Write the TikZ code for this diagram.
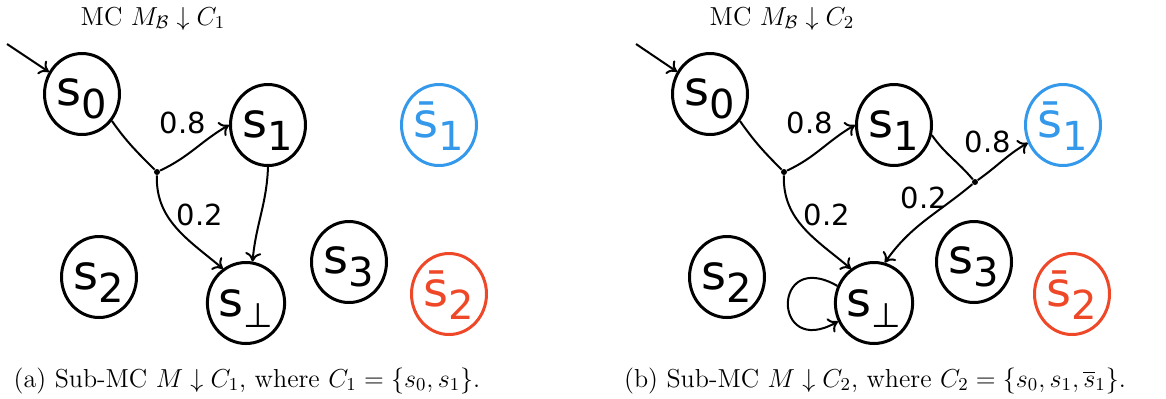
\RequirePackage{fix-cm}
\documentclass[tikz,border=0pt]{standalone}
\usepackage{amsmath}
\usepackage{fontspec}
\usetikzlibrary{arrows.meta, shapes.geometric}

\newfontfamily\statefont{DejaVu Sans}
\definecolor{stateblue}{RGB}{52,152,235}
\definecolor{statered}{RGB}{238,72,40}

% state label: letter with a big lowered index
\newcommand{\stname}[2]{\rule{0pt}{18.5pt}#1\raisebox{-6.5pt}{\fontsize{20}{20}\selectfont #2}}
\newcommand{\stbot}{\rule{0pt}{18.5pt}s\raisebox{-5.5pt}{\fontsize{17}{17}\selectfont ⊥}}

\tikzset{
  state/.style={ellipse, draw, line width=1.5pt, minimum width=37.5pt, minimum height=40.5pt,
    inner sep=0pt, font=\statefont\fontsize{24}{24}\selectfont},
  branch/.style={circle, fill, inner sep=0pt, minimum size=3pt},
  trans/.style={-{To[length=4.5pt,width=8pt]}, line width=1pt},
  link/.style={line width=1pt},
  prob/.style={font=\statefont\fontsize{14.5}{14.5}\selectfont, inner sep=1pt},
  caption/.style={font=\fontsize{13}{16}\selectfont, anchor=base, inner sep=0pt},
}

\begin{document}
\begin{tikzpicture}[x=0.5pt, y=-0.5pt]
\useasboundingbox (0,0) rectangle (1166,398);

% --- (a) Sub-MC for C_1 ---
\begin{scope}
  \node[caption] (titleA) at (153,25) {MC $M_{\mathcal{B}}\downarrow C_1$};

  \node[state] (s0A) at (82,94) {\stname{s}{0}};
  \node[state] (s1A) at (268,125) {\stname{s}{1}};
  \node[state, stateblue] (sb1A) at (439,125) {\stname{s̄}{1}};
  \node[state] (s2A) at (99,277) {\stname{s}{2}};
  \node[state] (sbotA) at (246,303) {\stbot};
  \node[state] (s3A) at (349,262) {\stname{s}{3}};
  \node[state, statered] (sb2A) at (449,294) {\stname{s̄}{2}};

  \node[branch] (d1A) at (157,172) {};
  \coordinate (initA) at (7,44);

  \draw[trans] (initA) -- (s0A);
  \draw[link] (s0A.-42) to[out=-55,in=135] (d1A);
  \draw[trans] (d1A) to[out=25,in=210] (s1A.west);
  \draw[trans] (d1A) to[out=-92,in=140] (sbotA.124);
  \draw[trans] (s1A.south) to[out=-92,in=85] (sbotA.81);

  \node[prob] (p1A) at (183,123) {0.8};
  \node[prob] (p2A) at (200,215) {0.2};

  \node[caption] (capA) at (247,387) {(a) Sub-MC $M\downarrow C_1$, where $C_1=\{s_0,s_1\}$.};
\end{scope}

% --- (b) Sub-MC for C_2 ---
\begin{scope}[shift={(627,0)}]
  \node[caption] (titleB) at (155,25) {MC $M_{\mathcal{B}}\downarrow C_2$};

  \node[state] (s0B) at (83,94) {\stname{s}{0}};
  \node[state] (s1B) at (267,125) {\stname{s}{1}};
  \node[state, stateblue] (sb1B) at (436,125) {\stname{s̄}{1}};
  \node[state] (s2B) at (100,277) {\stname{s}{2}};
  \node[state] (sbotB) at (247,303) {\stbot};
  \node[state] (s3B) at (347,262) {\stname{s}{3}};
  \node[state, statered] (sb2B) at (445,294) {\stname{s̄}{2}};

  \node[branch] (d1B) at (157,172) {};
  \node[branch] (d2B) at (348,182) {};
  \coordinate (initB) at (9,44);

  \draw[trans] (initB) -- (s0B);
  \draw[link] (s0B.-42) to[out=-55,in=135] (d1B);
  \draw[trans] (d1B) to[out=25,in=210] (s1B.west);
  \draw[trans] (d1B) to[out=-92,in=140] (sbotB.124);
  \draw[link] (s1B.-15) to[out=-55,in=130] (d2B);
  \draw[trans] (d2B) to[out=35,in=210] (sb1B.207);
  \draw[trans] (d2B) to[out=-140,in=55] (sbotB.75);
  \draw[trans] (sbotB.155) to[out=150,in=210,looseness=5.5] (sbotB.207);

  \node[prob] (p1B) at (183,123) {0.8};
  \node[prob] (p2B) at (200,215) {0.2};
  \node[prob] (p3B) at (361,142) {0.8};
  \node[prob] (p4B) at (297,198) {0.2};

  \node[caption] (capB) at (248,387) {(b) Sub-MC $M\downarrow C_2$, where $C_2=\{s_0,s_1,\overline{s}_1\}$.};
\end{scope}

\end{tikzpicture}
\end{document}
